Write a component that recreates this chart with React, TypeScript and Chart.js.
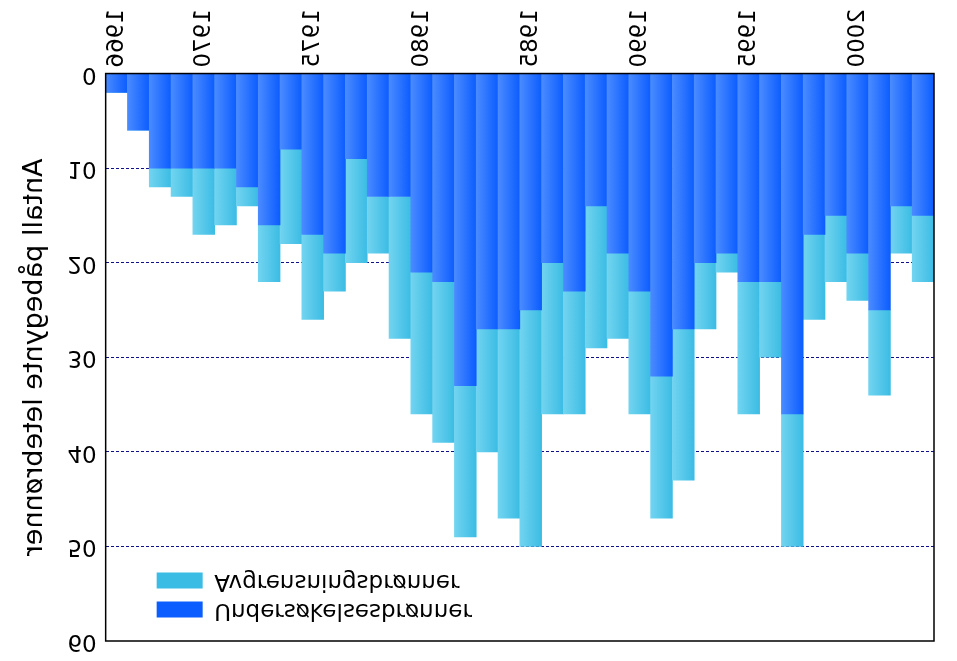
import React, { useEffect, useRef } from "react";
import { Chart, registerables } from "chart.js";

Chart.register(...registerables);

const years = [
  "1966", "1967", "1968", "1969", "1970", "1971", "1972", "1973", "1974", "1975",
  "1976", "1977", "1978", "1979", "1980", "1981", "1982", "1983", "1984", "1985",
  "1986", "1987", "1988", "1989", "1990", "1991", "1992", "1993", "1994", "1995",
  "1996", "1997", "1998", "1999", "2000", "2001", "2002", "2003",
];

const shownYears = ["1966", "1970", "1975", "1980", "1985", "1990", "1995", "2000"];

const undersokelse = [
  2, 6, 10, 10, 10, 10, 12, 16, 8, 17,
  19, 9, 13, 13, 21, 22, 33, 27, 27, 25,
  20, 23, 14, 19, 23, 32, 27, 20, 19, 22,
  22, 36, 17, 15, 19, 25, 14, 15,
];

const avgrensning = [
  0, 0, 2, 3, 7, 6, 2, 6, 10, 9,
  4, 11, 6, 15, 15, 17, 16, 13, 20, 25,
  16, 13, 15, 9, 13, 15, 16, 7, 2, 14,
  8, 14, 9, 7, 5, 9, 5, 7,
];

const yTicks = [0, 10, 20, 30, 40, 50, 60];

const FONT = "'DejaVu Sans', Verdana, sans-serif";

function barGradient(c0: string, c1: string) {
  return (ctx: any) => {
    const chart = ctx.chart;
    const xs = chart.scales && chart.scales.x;
    if (!chart.chartArea || !xs || ctx.type !== "data") return c1;
    const xc = xs.getPixelForValue(ctx.dataIndex);
    const w = xs.width / years.length;
    const g = chart.ctx.createLinearGradient(xc - w / 2, 0, xc + w / 2, 0);
    g.addColorStop(0, c0);
    g.addColorStop(1, c1);
    return g;
  };
}

const frame = {
  id: "frame",
  afterDatasetsDraw(chart: any) {
    const { ctx, chartArea } = chart;
    ctx.save();
    ctx.strokeStyle = "#000";
    ctx.lineWidth = 1.5;
    ctx.strokeRect(chartArea.left, chartArea.top, chartArea.right - chartArea.left, chartArea.bottom - chartArea.top);
    ctx.restore();
  },
};

const legendShift = {
  id: "legendShift",
  afterLayout(chart: any) {
    const lg = chart.legend;
    if (lg) {
      lg.left = chart.chartArea.left + 45;
      lg.top = chart.chartArea.top + 14;
    }
  },
};

export default function App() {
  const ref = useRef<HTMLCanvasElement | null>(null);
  useEffect(() => {
    if (!ref.current) return;
    const chart = new Chart(ref.current, {
      type: "bar",
      data: {
        labels: years,
        datasets: [
          {
            label: "Undersøkelsesbrønner",
            data: undersokelse,
            backgroundColor: barGradient("#4a8bff", "#0c5dff") as any,
            borderWidth: 0,
            barPercentage: 1,
            categoryPercentage: 1,
          },
          {
            label: "Avgrensningsbrønner",
            data: avgrensning,
            backgroundColor: barGradient("#72d4f0", "#3bbce4") as any,
            borderWidth: 0,
            barPercentage: 1,
            categoryPercentage: 1,
          },
        ],
      },
      options: {
        responsive: false,
        animation: false,
        layout: { padding: { left: 10, right: 23, top: 20, bottom: 3 } },
        plugins: {
          tooltip: { enabled: false },
          legend: {
            position: "chartArea" as any,
            align: "start",
            labels: {
              boxWidth: 46,
              boxHeight: 16,
              padding: 6,
              color: "#000",
              font: { family: FONT, size: 23 },
            },
          },
        },
        scales: {
          x: {
            stacked: true,
            grid: { display: false, drawTicks: false },
            border: { display: false },
            ticks: {
              autoSkip: false,
              minRotation: 90,
              maxRotation: 90,
              padding: 6,
              color: "#000",
              font: { family: FONT, size: 23 },
              callback: function (this: any, v: any) {
                const lab = years[v as number];
                return shownYears.includes(lab) ? lab : "";
              },
            },
          },
          y: {
            stacked: true,
            min: 0,
            max: 60,
            afterBuildTicks: (axis: any) => {
              axis.ticks = yTicks.map((v) => ({ value: v }));
            },
            afterFit: (axis: any) => {
              axis.paddingTop = 0;
              axis.paddingBottom = 0;
            },
            grid: {
              drawTicks: false,
              color: (c: any) => (c.tick && (c.tick.value === 0 || c.tick.value === 60) ? "rgba(0,0,0,0)" : "#10108a"),
              lineWidth: 1,
            },
            border: { display: false, dash: [3, 2] },
            ticks: {
              padding: 9,
              color: "#000",
              font: { family: FONT, size: 23 },
            },
            title: {
              display: true,
              text: "Antall påbegynte letebrønner",
              color: "#000",
              font: { family: FONT, size: 27 },
              padding: { top: 9, bottom: 7 },
            },
          },
        },
      },
      plugins: [frame, legendShift],
    });
    return () => chart.destroy();
  }, []);
  return (
    <div style={{ position: "absolute", left: 0, top: 0, width: 957, height: 661, transform: "scaleY(-1)", background: "#fff" }}>
      <canvas ref={ref} width={957} height={661} />
    </div>
  );
}
